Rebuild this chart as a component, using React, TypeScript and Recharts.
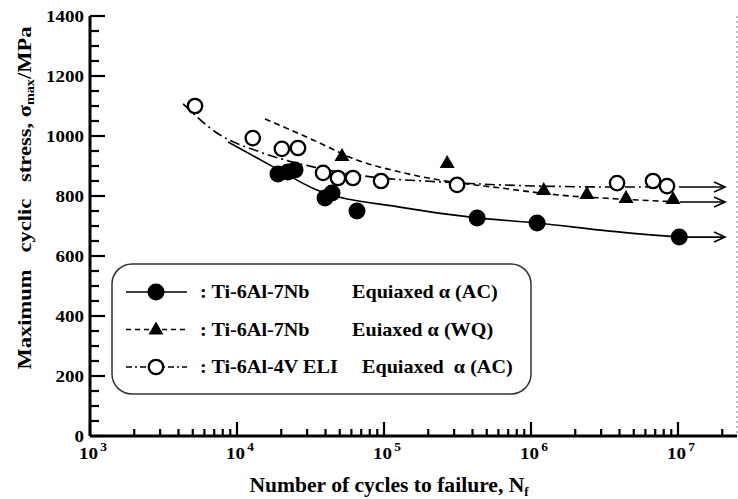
import React from "react";
import { ComposedChart, Line, Scatter, XAxis, YAxis } from "recharts";

// Ti-6Al-7Nb, equiaxed alpha, air cooled (filled circles)
const acCycles = [1.9e4, 2.22e4, 2.48e4, 3.97e4, 4.43e4, 6.55e4, 4.3e5, 1.1e6, 1.02e7];
const acStress = [873, 880, 887, 793, 810, 750, 727, 710, 663];
// Ti-6Al-7Nb, equiaxed alpha, water quenched (triangles)
const wqCycles = [5.18e4, 2.69e5, 1.22e6, 2.4e6, 4.43e6, 9.25e6];
const wqStress = [933, 910, 820, 807, 793, 790];
// Ti-6Al-4V ELI (open circles)
const eliCycles = [5.18e3, 1.28e4, 2.02e4, 2.6e4, 3.85e4, 4.86e4, 6.15e4, 9.55e4, 3.14e5, 3.85e6, 6.76e6, 8.42e6];
const eliStress = [1100, 993, 957, 960, 877, 860, 860, 850, 837, 843, 850, 833];

// S-N curves
const acFitCycles = [8.7e3, 1.68e4, 3.5e4, 1.28e5, 4.3e5, 1.1e6, 3.44e6, 1.02e7];
const acFitStress = [980, 903, 820, 763, 727, 710, 683, 663];
const wqFitCycles = [1.55e4, 3.29e4, 6.55e4, 1.28e5, 2.4e5, 6.15e5, 1.57e6, 4.03e6, 1.03e7];
const wqFitStress = [1057, 987, 920, 880, 853, 827, 803, 790, 780];
const eliFitCycles = [4.3e3, 7.31e3, 1.43e4, 3.29e4, 8.41e4, 2.4e5, 1.15e6, 4.03e6, 1.03e7];
const eliFitStress = [1107, 1010, 947, 897, 863, 847, 833, 830, 830];

// run-out arrows end here
const runoutEnd = 2.09e7;

const decades = [1e3, 1e4, 1e5, 1e6, 1e7];
const minorSteps = [2, 3, 4, 5, 6, 7, 8, 9];
const yLabels = [0, 200, 400, 600, 800, 1000, 1200, 1400];
const yStep = 50;

const xTicks = decades.flatMap((d) => [d, ...minorSteps.map((m) => m * d)]).filter((v) => v <= 2.5e7);
const yTicks = Array.from({ length: 1400 / yStep + 1 }, (_, i) => i * yStep);

const FONT = "'Liberation Serif', 'Times New Roman', serif";
const SX = 1.12;

const pts = (n: number[], s: number[]) => n.map((v, i) => ({ n: v, s: s[i] }));
const arrow = (n: number[], s: number[]) => [
  { n: n[n.length - 1], s: s[s.length - 1] },
  { n: runoutEnd, s: s[s.length - 1] },
];

const isMajorX = (v: number) => Math.abs(Math.log10(v) - Math.round(Math.log10(v))) < 1e-6;

const BottomTick = (p: any) => {
  const v = p.payload.value;
  const major = isMajorX(v);
  const len = major ? 14 : 7;
  return (
    <g>
      <line x1={p.x} x2={p.x} y1={p.y} y2={p.y - len} stroke="#000" strokeWidth={2.2} />
      {major && (
        <g transform={`translate(${p.x + 3},${p.y + 23}) scale(${SX},1)`}>
          <text textAnchor="middle" fontFamily={FONT} fontWeight="bold" fontSize={17} fill="#000">
            10
            <tspan dx={2} dy={-8} fontSize={12}>
              {Math.round(Math.log10(v))}
            </tspan>
          </text>
        </g>
      )}
    </g>
  );
};

const TopTick = (p: any) => {
  const len = isMajorX(p.payload.value) ? 14 : 8;
  return <line x1={p.x} x2={p.x} y1={p.y} y2={p.y + len} stroke="#000" strokeWidth={2.2} />;
};

const LeftTick = (p: any) => {
  const v = p.payload.value;
  const major = yLabels.includes(v);
  return (
    <g>
      <line x1={p.x} x2={p.x + (major ? 15 : 9)} y1={p.y} y2={p.y} stroke="#000" strokeWidth={2.2} />
      {major && (
        <g transform={`translate(${p.x - 6},${p.y + 6}) scale(${SX},1)`}>
          <text textAnchor="end" fontFamily={FONT} fontWeight="bold" fontSize={17} fill="#000">
            {v}
          </text>
        </g>
      )}
    </g>
  );
};

const RightTick = (p: any) => {
  const major = yLabels.includes(p.payload.value);
  return (
    <line
      x1={p.x}
      x2={p.x - (major ? 10 : 5)}
      y1={p.y}
      y2={p.y}
      stroke={major ? "#000" : "#bbb"}
      strokeWidth={2}
    />
  );
};

const Disc = (p: any) => <circle cx={p.cx} cy={p.cy} r={8.5} fill="#000" />;
const Ring = (p: any) => <circle cx={p.cx} cy={p.cy} r={7.2} fill="#fff" stroke="#000" strokeWidth={2.3} />;
const Tri = (p: any) => (
  <path d={`M${p.cx},${p.cy - 8} L${p.cx + 7.5},${p.cy + 5} L${p.cx - 7.5},${p.cy + 5} Z`} fill="#000" />
);

const ArrowHead = (p: any) =>
  p.index === 1 ? (
    <path
      key={p.key}
      d={`M${p.cx - 11},${p.cy - 5} L${p.cx},${p.cy} L${p.cx - 11},${p.cy + 5}`}
      fill="none"
      stroke="#000"
      strokeWidth={1.6}
    />
  ) : (
    <g key={p.key} />
  );

const series = [
  { label: ": Ti-6Al-7Nb", cond: "Equiaxed α (AC)", condX: 352, dash: undefined, marker: "disc" },
  { label: ": Ti-6Al-7Nb", cond: "Euiaxed α (WQ)", condX: 352, dash: "5 4", marker: "tri" },
  { label: ": Ti-6Al-4V ELI", cond: "Equiaxed  α (AC)", condX: 362, dash: "6 3 2 3", marker: "ring" },
];

const LegendBox = () => (
  <g>
    <rect x={112} y={264} width={419} height={130} rx={20} fill="#fff" stroke="#333" strokeWidth={1.5} />
    {series.map((s, i) => {
      const y = 292 + i * 37.5;
      return (
        <g key={i}>
          <line x1={126} x2={187} y1={y} y2={y} stroke="#000" strokeWidth={1.4} strokeDasharray={s.dash} />
          {s.marker === "disc" && <Disc cx={156} cy={y} />}
          {s.marker === "tri" && <Tri cx={156} cy={y} />}
          {s.marker === "ring" && <Ring cx={156} cy={y} />}
          <g transform={`translate(200,${y + 6}) scale(${SX},1)`}>
            <text fontFamily={FONT} fontWeight="bold" fontSize={18}>
              {s.label}
            </text>
          </g>
          <g transform={`translate(${s.condX},${y + 6}) scale(${SX},1)`}>
            <text fontFamily={FONT} fontWeight="bold" fontSize={18} style={{ whiteSpace: "pre" }}>
              {s.cond}
            </text>
          </g>
        </g>
      );
    })}
  </g>
);

export default function App() {
  return (
    <div style={{ position: "absolute", left: 0, top: 0, width: 738, height: 499, background: "#fff" }}>
      <ComposedChart width={738} height={499} margin={{ top: 16, right: 0, bottom: 0, left: 0 }}>
        <XAxis
          xAxisId="b"
          dataKey="n"
          type="number"
          scale="log"
          domain={[1000, 2.52e7]}
          allowDataOverflow
          ticks={xTicks}
          interval={0}
          height={63}
          tickSize={0}
          tickMargin={0}
          tickLine={false}
          axisLine={{ stroke: "#000", strokeWidth: 3 }}
          tick={BottomTick}
        />
        <XAxis
          xAxisId="t"
          orientation="top"
          dataKey="n"
          type="number"
          scale="log"
          domain={[1000, 2.52e7]}
          allowDataOverflow
          ticks={xTicks}
          interval={0}
          height={0}
          tickSize={0}
          tickMargin={0}
          tickLine={false}
          axisLine={{ stroke: "#000", strokeWidth: 3 }}
          tick={TopTick}
        />
        <YAxis
          yAxisId="l"
          dataKey="s"
          type="number"
          domain={[0, 1400]}
          ticks={yTicks}
          interval={0}
          width={90}
          tickSize={0}
          tickMargin={0}
          tickLine={false}
          axisLine={{ stroke: "#000", strokeWidth: 3 }}
          tick={LeftTick}
        />
        <YAxis
          yAxisId="r"
          orientation="right"
          type="number"
          domain={[0, 1400]}
          ticks={yTicks}
          interval={0}
          width={1}
          tickSize={0}
          tickMargin={0}
          tickLine={false}
          axisLine={{ stroke: "#aaa", strokeWidth: 1.5, strokeDasharray: "2 3" }}
          tick={RightTick}
        />

        <Line xAxisId="b" yAxisId="l" data={pts(acFitCycles, acFitStress)} dataKey="s" type="monotone" stroke="#000" strokeWidth={1.6} dot={false} isAnimationActive={false} />
        <Line xAxisId="b" yAxisId="l" data={pts(wqFitCycles, wqFitStress)} dataKey="s" type="monotone" stroke="#000" strokeWidth={1.6} strokeDasharray="6 4" dot={false} isAnimationActive={false} />
        <Line xAxisId="b" yAxisId="l" data={pts(eliFitCycles, eliFitStress)} dataKey="s" type="monotone" stroke="#000" strokeWidth={1.6} strokeDasharray="10 4 2 4" dot={false} isAnimationActive={false} />

        <Line xAxisId="b" yAxisId="l" data={arrow(acFitCycles, acFitStress)} dataKey="s" stroke="#000" strokeWidth={1.6} dot={ArrowHead} isAnimationActive={false} />
        <Line xAxisId="b" yAxisId="l" data={arrow(wqFitCycles, wqFitStress)} dataKey="s" stroke="#000" strokeWidth={1.6} dot={ArrowHead} isAnimationActive={false} />
        <Line xAxisId="b" yAxisId="l" data={arrow(eliFitCycles, eliFitStress)} dataKey="s" stroke="#000" strokeWidth={1.6} dot={ArrowHead} isAnimationActive={false} />

        <Scatter xAxisId="b" yAxisId="l" data={pts(eliCycles, eliStress)} dataKey="s" shape={Ring} isAnimationActive={false} />
        <Scatter xAxisId="b" yAxisId="l" data={pts(wqCycles, wqStress)} dataKey="s" shape={Tri} isAnimationActive={false} />
        <Scatter xAxisId="b" yAxisId="l" data={pts(acCycles, acStress)} dataKey="s" shape={Disc} isAnimationActive={false} />
      </ComposedChart>

      <svg width={738} height={499} style={{ position: "absolute", left: 0, top: 0, pointerEvents: "none" }}>
        <LegendBox />
        <text
          transform="translate(31,198) rotate(-90)"
          textAnchor="middle"
          fontFamily={FONT}
          fontWeight="bold"
          fontSize={19}
          textLength={343}
          lengthAdjust="spacingAndGlyphs"
          style={{ whiteSpace: "pre" }}
        >
          {"Maximum   cyclic   stress, σ"}
          <tspan dy={3} fontSize={12}>max</tspan>
          <tspan dy={-3}>/MPa</tspan>
        </text>
        <g transform={`translate(389,492) scale(1.08,1)`}>
          <text textAnchor="middle" fontFamily={FONT} fontWeight="bold" fontSize={20}>
            Number of cycles to failure, N
            <tspan dy={4} fontSize={12}>f</tspan>
          </text>
        </g>
      </svg>
    </div>
  );
}
